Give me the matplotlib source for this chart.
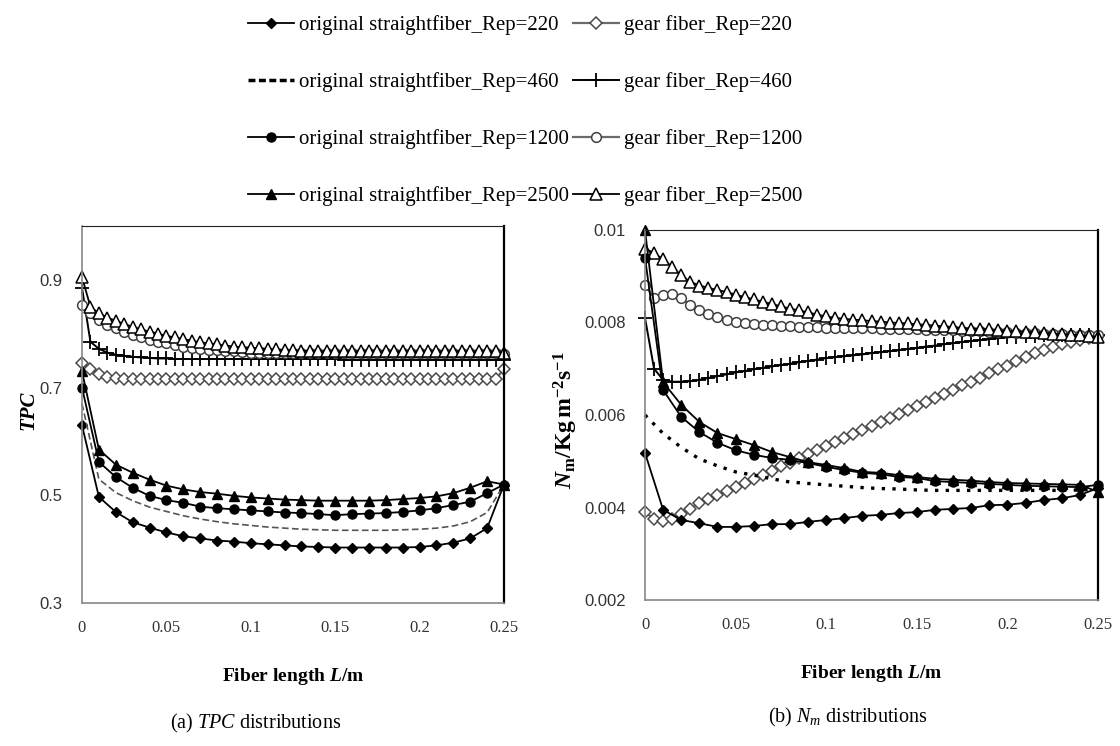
import numpy as np
import matplotlib
matplotlib.use("Agg")
import matplotlib.pyplot as plt
from matplotlib.lines import Line2D

plt.rcParams['font.family'] = ['Liberation Serif', 'DejaVu Serif']
plt.rcParams['mathtext.fontset'] = 'custom'
plt.rcParams['mathtext.rm'] = 'Liberation Serif'
plt.rcParams['mathtext.it'] = 'Liberation Serif:italic'
plt.rcParams['mathtext.bf'] = 'Liberation Serif:bold'
plt.rcParams['mathtext.bfit'] = 'Liberation Serif:bold:italic'

# sample positions along the fibre (m)
x_orig = np.linspace(0, 0.25, 26)
x_gear = np.linspace(0, 0.25, 51)

# (a) TPC, original straight fibre
tpc_o220 = [0.63, 0.497, 0.469, 0.450, 0.440, 0.431, 0.424, 0.420, 0.416, 0.414,
            0.411, 0.409, 0.407, 0.405, 0.404, 0.403, 0.403, 0.403, 0.403, 0.403,
            0.404, 0.407, 0.412, 0.420, 0.439, 0.52]
tpc_o460 = [0.67, 0.53, 0.505, 0.49, 0.478, 0.47, 0.462, 0.456, 0.451, 0.447,
            0.444, 0.441, 0.439, 0.437, 0.436, 0.435, 0.435, 0.435, 0.435, 0.436,
            0.437, 0.439, 0.443, 0.451, 0.468, 0.52]
tpc_o1200 = [0.70, 0.562, 0.534, 0.514, 0.499, 0.491, 0.486, 0.479, 0.476, 0.474,
             0.472, 0.470, 0.468, 0.467, 0.465, 0.463, 0.465, 0.466, 0.467, 0.469,
             0.472, 0.476, 0.482, 0.488, 0.504, 0.52]
tpc_o2500 = [0.73, 0.585, 0.557, 0.542, 0.529, 0.518, 0.511, 0.506, 0.503, 0.499,
             0.496, 0.494, 0.492, 0.491, 0.490, 0.490, 0.490, 0.490, 0.491, 0.493,
             0.495, 0.498, 0.504, 0.514, 0.526, 0.52]

# (a) TPC, gear fibre
tpc_g220 = [0.745, 0.735, 0.726, 0.720, 0.717, 0.716, 0.715, 0.715, 0.715, 0.715, 0.715,
            0.715, 0.715, 0.715, 0.715, 0.715, 0.715, 0.715, 0.715, 0.715, 0.715,
            0.715, 0.715, 0.715, 0.715, 0.715, 0.715, 0.715, 0.715, 0.715, 0.715,
            0.715, 0.715, 0.715, 0.715, 0.715, 0.715, 0.715, 0.715, 0.715, 0.715,
            0.715, 0.715, 0.715, 0.715, 0.715, 0.715, 0.715, 0.715, 0.715, 0.735]
tpc_g460 = [0.885, 0.785, 0.772, 0.765, 0.761, 0.759, 0.757, 0.756, 0.755, 0.754, 0.754,
            0.753, 0.753, 0.753, 0.753, 0.753, 0.753, 0.753, 0.753, 0.753, 0.753,
            0.753, 0.753, 0.753, 0.753, 0.753, 0.753, 0.753, 0.753, 0.753, 0.753,
            0.752, 0.752, 0.752, 0.752, 0.752, 0.752, 0.752, 0.752, 0.752, 0.752,
            0.752, 0.752, 0.752, 0.752, 0.752, 0.752, 0.752, 0.752, 0.752, 0.752]
tpc_g1200 = [0.853, 0.838, 0.826, 0.817, 0.810, 0.804, 0.798, 0.793, 0.789, 0.785, 0.782,
             0.779, 0.776, 0.774, 0.772, 0.770, 0.769, 0.768, 0.767, 0.766, 0.765,
             0.765, 0.765, 0.765, 0.765, 0.765, 0.765, 0.765, 0.765, 0.765, 0.765,
             0.764, 0.764, 0.764, 0.764, 0.764, 0.764, 0.764, 0.764, 0.764, 0.764,
             0.764, 0.764, 0.764, 0.764, 0.764, 0.764, 0.764, 0.764, 0.764, 0.762]
tpc_g2500 = [0.905, 0.850, 0.838, 0.830, 0.824, 0.818, 0.813, 0.808, 0.804, 0.800, 0.796,
             0.793, 0.790, 0.787, 0.784, 0.782, 0.780, 0.778, 0.776, 0.775, 0.774,
             0.773, 0.772, 0.771, 0.770, 0.769, 0.768, 0.768, 0.767, 0.767, 0.767,
             0.767, 0.767, 0.767, 0.767, 0.767, 0.767, 0.767, 0.767, 0.767, 0.767,
             0.767, 0.767, 0.767, 0.767, 0.767, 0.767, 0.767, 0.767, 0.767, 0.765]

# (b) Nm, original straight fibre
nm_o220 = [0.00518, 0.00395, 0.00373, 0.00366, 0.00358, 0.00358, 0.00360, 0.00364, 0.00364, 0.00369,
           0.00373, 0.00377, 0.00382, 0.00384, 0.00388, 0.00390, 0.00395, 0.00397, 0.00399, 0.00405,
           0.00406, 0.00410, 0.00416, 0.00420, 0.00427, 0.00442]
nm_o460 = [0.0060, 0.0056, 0.0053, 0.00505, 0.0049, 0.00477, 0.0047, 0.00462, 0.00455, 0.00452,
           0.00449, 0.00446, 0.00443, 0.00441, 0.00440, 0.00438, 0.00437, 0.00437, 0.00437, 0.00437,
           0.00437, 0.00437, 0.00437, 0.00437, 0.00438, 0.00440]
nm_o1200 = [0.0094, 0.00654, 0.00596, 0.00563, 0.0054, 0.00524, 0.00514, 0.00507, 0.00503, 0.00496,
            0.00488, 0.00481, 0.00475, 0.00472, 0.00466, 0.00464, 0.00457, 0.00455, 0.00453, 0.00451,
            0.00449, 0.00447, 0.00446, 0.00445, 0.00444, 0.00449]
nm_o2500 = [0.0100, 0.00671, 0.00622, 0.00585, 0.00561, 0.00548, 0.00535, 0.0052, 0.00509, 0.00498,
            0.00492, 0.00485, 0.00477, 0.00475, 0.0047, 0.00466, 0.00462, 0.0046, 0.00458, 0.00455,
            0.00453, 0.00452, 0.00451, 0.0045, 0.00449, 0.00434]

# (b) Nm, gear fibre
nm_g220 = [0.00390, 0.00375, 0.00370, 0.00375, 0.00385, 0.00397, 0.00410, 0.00419, 0.00427, 0.00436, 0.00445,
           0.00454, 0.00462, 0.00471, 0.00480, 0.00489, 0.00497, 0.00506, 0.00515, 0.00524, 0.00532,
           0.00541, 0.00550, 0.00559, 0.00567, 0.00576, 0.00585, 0.00594, 0.00602, 0.00611, 0.00620,
           0.00629, 0.00637, 0.00646, 0.00655, 0.00664, 0.00672, 0.00681, 0.00690, 0.00699, 0.00707,
           0.00716, 0.00725, 0.00733, 0.00740, 0.00746, 0.00753, 0.00758, 0.00763, 0.00767, 0.00770]
nm_g460 = [0.00810, 0.00700, 0.00676, 0.00672, 0.00672, 0.00673, 0.00676, 0.00680, 0.00684, 0.00688, 0.00692,
           0.00695, 0.00699, 0.00702, 0.00705, 0.00708, 0.00711, 0.00714, 0.00717, 0.00720, 0.00723,
           0.00725, 0.00727, 0.00729, 0.00731, 0.00734, 0.00736, 0.00738, 0.00740, 0.00743, 0.00745,
           0.00748, 0.00750, 0.00753, 0.00755, 0.00758, 0.00760, 0.00762, 0.00764, 0.00766, 0.00768,
           0.00769, 0.00770, 0.00771, 0.00772, 0.00773, 0.00773, 0.00773, 0.00773, 0.00772, 0.00772]
nm_g1200 = [0.00881, 0.00853, 0.00860, 0.00862, 0.00852, 0.00838, 0.00826, 0.00818, 0.00812, 0.00806, 0.00802,
            0.00799, 0.00797, 0.00795, 0.00794, 0.00793, 0.00792, 0.00791, 0.00790, 0.00790, 0.00789,
            0.00789, 0.00789, 0.00788, 0.00788, 0.00788, 0.00787, 0.00787, 0.00786, 0.00786, 0.00785,
            0.00784, 0.00784, 0.00783, 0.00783, 0.00782, 0.00781, 0.00781, 0.00780, 0.00779, 0.00779,
            0.00778, 0.00777, 0.00777, 0.00776, 0.00775, 0.00775, 0.00774, 0.00773, 0.00773, 0.00772]
nm_g2500 = [0.00960, 0.00950, 0.00937, 0.00920, 0.00902, 0.00888, 0.00880, 0.00875, 0.00870, 0.00866, 0.00860,
            0.00855, 0.00850, 0.00845, 0.00840, 0.00835, 0.00830, 0.00826, 0.00822, 0.00817, 0.00813,
            0.00810, 0.00808, 0.00806, 0.00805, 0.00803, 0.00802, 0.00800, 0.00799, 0.00798, 0.00796,
            0.00795, 0.00793, 0.00792, 0.00790, 0.00788, 0.00787, 0.00786, 0.00785, 0.00783, 0.00782,
            0.00781, 0.00780, 0.00779, 0.00778, 0.00776, 0.00775, 0.00774, 0.00772, 0.00771, 0.00769]

labels_orig = ['original straightfiber_Rep=220', 'original straightfiber_Rep=460',
               'original straightfiber_Rep=1200', 'original straightfiber_Rep=2500']
labels_gear = ['gear fiber_Rep=220', 'gear fiber_Rep=460',
               'gear fiber_Rep=1200', 'gear fiber_Rep=2500']

# line styles for the eight series
sty_orig = [
    dict(color='black', lw=1.3, marker='D', ms=5.5, mfc='black', mec='black'),
    None,  # dashed / dotted, set per panel
    dict(color='black', lw=1.3, marker='o', ms=6.5, mfc='black', mec='black'),
    dict(color='black', lw=1.3, marker='^', ms=7, mfc='black', mec='black'),
]
sty_gear = [
    dict(color='#6a6a6a', lw=1.6, marker='D', ms=6, mfc='white', mec='#4a4a4a', mew=1.1),
    dict(color='black', lw=1.4, marker='+', ms=10, mec='black', mew=1.3),
    dict(color='#6a6a6a', lw=1.6, marker='o', ms=7, mfc='white', mec='#404040', mew=1.1),
    dict(color='black', lw=1.3, marker='^', ms=8, mfc='white', mec='black', mew=1.1),
]
dash_a = dict(color='#555555', lw=1.2, ls=(0, (4, 2)))
dash_b = dict(color='black', lw=2.4, ls=(0, (1, 2.2)))

fig = plt.figure(figsize=(11.2, 7.46), dpi=100)
ax1 = fig.add_axes([82 / 1120, 1 - 603 / 746, 422 / 1120, 377 / 746])
ax2 = fig.add_axes([645 / 1120, 1 - 600 / 746, 453 / 1120, 370 / 746])

def draw(ax, ys_orig, ys_gear, dash):
    for y, st in zip(ys_gear, sty_gear):
        ax.plot(x_gear, y, clip_on=False, **st)
    for y, st in zip(ys_orig, sty_orig):
        ax.plot(x_orig, y, clip_on=False, **(st if st is not None else dash))

draw(ax1, [tpc_o220, tpc_o460, tpc_o1200, tpc_o2500],
     [tpc_g220, tpc_g460, tpc_g1200, tpc_g2500], dash_a)
draw(ax2, [nm_o220, nm_o460, nm_o1200, nm_o2500],
     [nm_g220, nm_g460, nm_g1200, nm_g2500], dash_b)

ax1.set_xlim(0, 0.25)
ax1.set_ylim(0.3, 1.0)
ax1.set_yticks([0.3, 0.5, 0.7, 0.9])
ax1.set_yticklabels(['0.3', '0.5', '0.7', '0.9'])
ax2.set_xlim(0, 0.25)
ax2.set_ylim(0.002, 0.01)
ax2.set_yticks([0.002, 0.004, 0.006, 0.008, 0.01])
ax2.set_yticklabels(['0.002', '0.004', '0.006', '0.008', '0.01'])

for ax in (ax1, ax2):
    ax.set_xticks([0, 0.05, 0.1, 0.15, 0.2, 0.25])
    ax.set_xticklabels(['0', '0.05', '0.1', '0.15', '0.2', '0.25'])
    ax.tick_params(length=0, labelsize=12, colors='#333333')
    ax.tick_params(axis='y', pad=14)
    ax.tick_params(axis='x', pad=12)
    for lab in ax.get_yticklabels():
        lab.set_fontfamily('Liberation Sans')
    for s in ('left', 'bottom'):
        ax.spines[s].set_color('#888888')
        ax.spines[s].set_linewidth(1.2)
    ax.spines['top'].set_color('#222222')
    ax.spines['right'].set_color('black')
    ax.spines['right'].set_linewidth(1.6)
    ax.set_xlabel(r'Fiber length $\mathbfit{L}$/m', fontsize=14, fontweight='bold', labelpad=22)

fig.text(28 / 1120, 1 - 410 / 746, 'TPC', rotation=90, fontsize=15, fontstyle='italic',
         fontweight='bold', ha='center', va='center')
fig.text(566 / 1120, 1 - 420 / 746, r'$\mathbfit{N}_\mathbf{m}\mathbf{/Kg\,m^{-2}s^{-1}}$',
         rotation=90, fontsize=17, ha='center', va='center')

fig.text(256 / 1120, 1 - 723 / 746, r'(a) $TPC$ distributions', fontsize=14.5, ha='center', va='center')
fig.text(848 / 1120, 1 - 717 / 746, r'(b) $N_m$ distributions', fontsize=14.5, ha='center', va='center')

# legend
handles = [Line2D([], [], **sty_orig[0]),
           Line2D([], [], color='black', lw=2.5, ls=(0, (2, 1))),
           Line2D([], [], **sty_orig[2]),
           Line2D([], [], **sty_orig[3])]
handles += [Line2D([], [], **st) for st in sty_gear]
fig.legend(handles, labels_orig + labels_gear, loc='upper left',
           bbox_to_anchor=(248 / 1120, 1 - 15 / 746), ncol=2, frameon=False,
           fontsize=15, labelspacing=1.78, handlelength=2.2, handletextpad=0.25,
           columnspacing=0.2, borderpad=0, borderaxespad=0)

fig.savefig('out.png', dpi=100)
